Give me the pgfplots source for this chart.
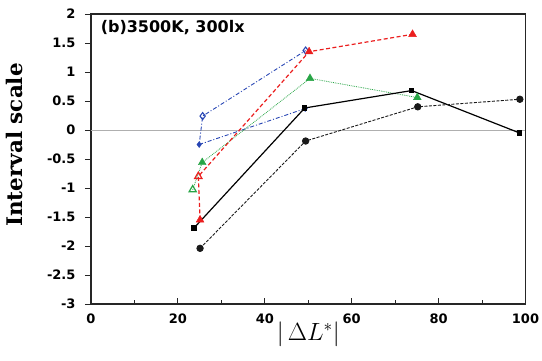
\documentclass[border=0pt]{standalone}
\usepackage{fontspec}
\setmainfont{DejaVu Serif}
\newfontfamily\sansb{DejaVu Sans}
\usepackage{pgfplots}
\pgfplotsset{compat=1.18}
\definecolor{cblue}{RGB}{40,70,180}
\definecolor{cred}{RGB}{235,30,30}
\definecolor{cgreen}{RGB}{40,165,70}
\definecolor{cgray}{RGB}{175,175,175}
\begin{document}
\begin{tikzpicture}
\path[use as bounding box] (-91pt,-56pt) rectangle (451pt,304pt);
\begin{axis}[
  at={(0,0)}, anchor=south west,
  scale only axis, width=434.5pt, height=290pt,
  xmin=0, xmax=100, ymin=-3, ymax=2,
  xtick={0,20,...,100}, minor xtick={10,30,50,70,90},
  ytick={-3,-2.5,...,2},
  axis line style={line width=1.3pt, black!85},
  tick align=inside,
  major tick length=6pt, minor tick length=4pt,
  xtick style={line width=0.9pt, black!85},
  ytick style={line width=0.9pt, black!85, xshift=-6pt},
  yticklabel style={xshift=-12pt},
  xticklabel style={yshift=-6pt},
  xtick pos=bottom, ytick pos=left,
  /pgf/number format/assume math mode=true,
  /pgf/number format/fixed,
  tick label style={font=\sansb\bfseries\fontsize{13}{15}\selectfont},
  ylabel={\bfseries Interval scale},
  ylabel style={font=\fontsize{21.5}{23}\selectfont, yshift=17pt, xshift=14pt},
  xlabel={$\bigg|\,\Delta L^{*}\bigg|$},
  xlabel style={font=\fontsize{23}{25}\selectfont, yshift=8pt},
  clip=false,
]
\addplot[cgray, line width=1pt, forget plot] coordinates {(0,0) (100,0)};
% blue dash-dot
\addplot[cblue, line width=0.9pt, dash pattern=on 4pt off 2pt on 1pt off 2pt] coordinates {(49.3,0.37) (24.9,-0.25) (25.7,0.24) (49.4,1.37)};
\addplot[cblue, only marks, mark=diamond*, mark size=3pt] coordinates {(49.3,0.37) (24.9,-0.25)};
\addplot[cblue, only marks, mark=diamond, mark size=3.5pt, line width=1.1pt] coordinates {(25.7,0.24) (49.4,1.37)};
% green dotted
\addplot[cgreen, line width=0.8pt, densely dotted] coordinates {(23.4,-1.03) (25.6,-0.56) (50.4,0.89) (75.1,0.56)};
\addplot[cgreen, only marks, mark=triangle*, mark size=4.5pt] coordinates {(25.6,-0.56) (50.4,0.89) (75.1,0.56)};
\addplot[cgreen, only marks, mark=triangle, mark size=4.2pt, line width=1.2pt] coordinates {(23.4,-1.03)};
% red dashed
\addplot[cred, line width=1.2pt, dash pattern=on 4pt off 2.5pt] coordinates {(25.1,-1.55) (24.7,-0.80) (50.2,1.35) (74.0,1.65)};
\addplot[cred, only marks, mark=triangle*, mark size=4.5pt] coordinates {(25.1,-1.55) (50.2,1.35) (74.0,1.65)};
\addplot[cred, only marks, mark=triangle, mark size=4.2pt, line width=1.2pt] coordinates {(24.7,-0.80)};
% black solid squares
\addplot[black, line width=1.2pt, mark=square*, mark size=2pt] coordinates {(23.7,-1.69) (49.2,0.38) (73.8,0.68) (98.6,-0.05)};
% black dashed circles
\addplot[black!90, line width=0.9pt, dash pattern=on 3pt off 1.5pt, mark=*, mark size=3.2pt, mark options={solid}] coordinates {(25.1,-2.04) (49.4,-0.19) (75.2,0.40) (98.7,0.53)};
\node[anchor=north west, font=\sansb\bfseries\fontsize{16}{18}\selectfont, inner sep=0pt] at (axis cs:2.2,1.90) {(b)3500K, 300lx};
\end{axis}
\end{tikzpicture}
\end{document}
